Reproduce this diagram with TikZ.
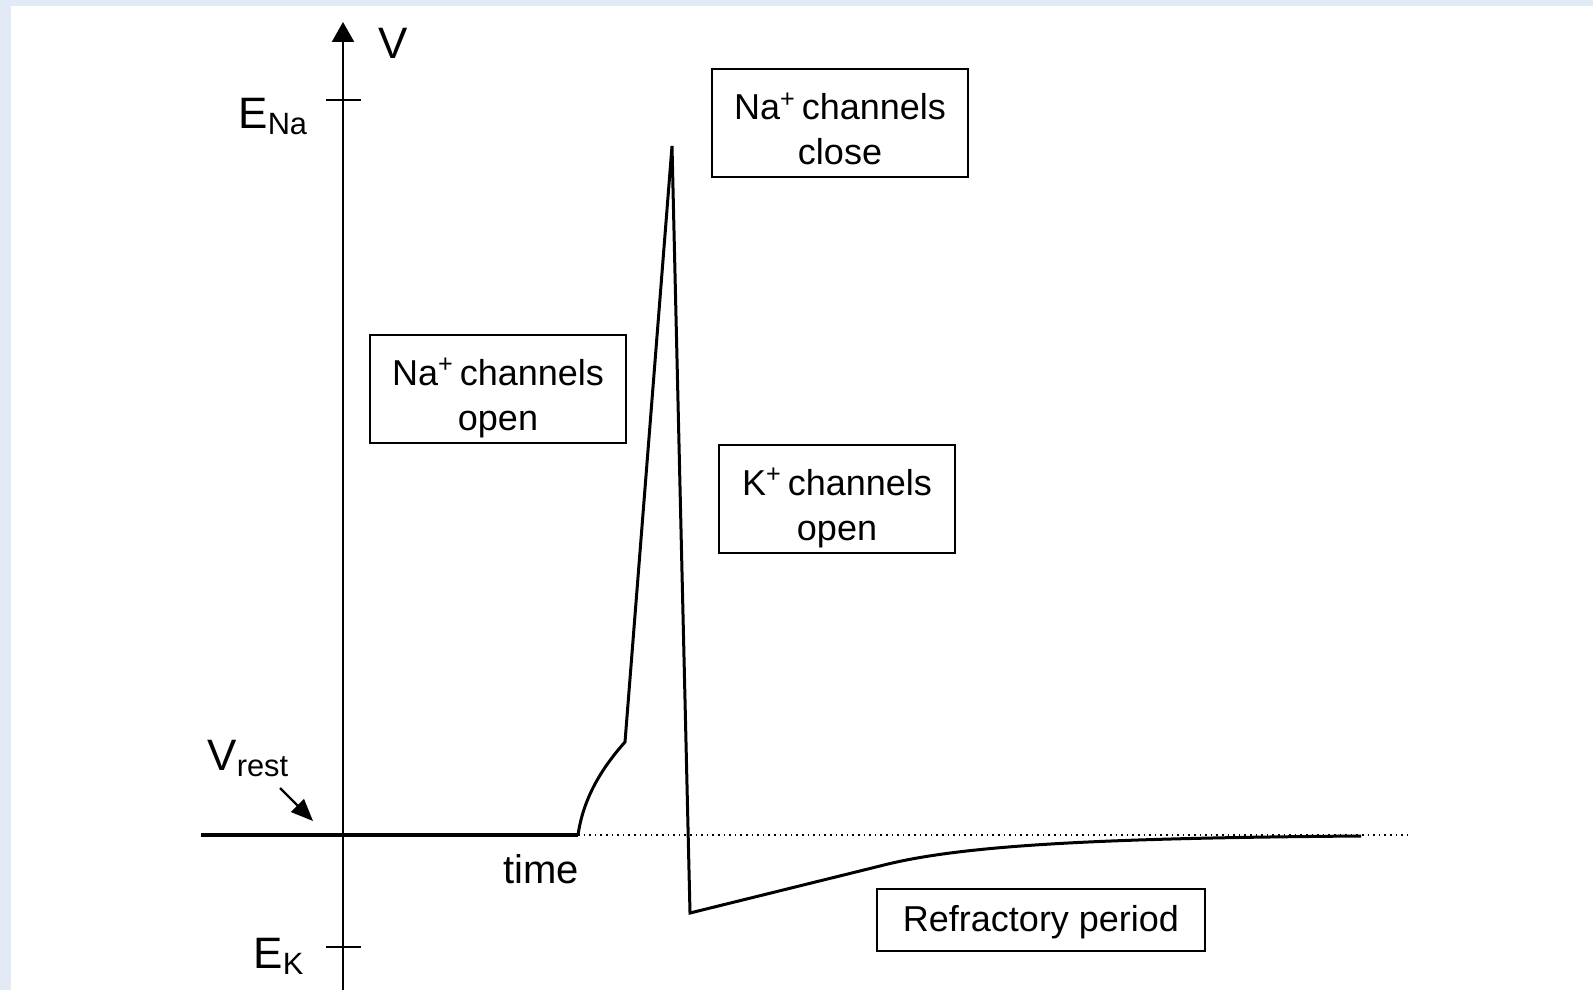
\documentclass[tikz,border=0pt]{standalone}
\usepackage{fontspec}
\setmainfont{Liberation Sans}
\usetikzlibrary{arrows.meta}
\definecolor{bgblue}{RGB}{226,234,245}
\begin{document}
\begin{tikzpicture}
  [x=0.5pt,y=-0.5pt,
   chanbox/.style={draw,line width=1.1pt,inner sep=0pt},
   chantext/.style={align=center,inner sep=0pt,font=\fontsize{18}{22.5}\selectfont},
   axlabel/.style={inner sep=0pt,anchor=base west,font=\fontsize{22}{26}\selectfont}]
  \useasboundingbox (0,0) rectangle (1593,990);
  \fill[bgblue] (0,0) rectangle (1593,990);
  \fill[white] (11,6) rectangle (1593,990);

  \coordinate (O) at (343,835);
  \coordinate (top) at (343,22);
  \coordinate (bot) at (343,990);
  \coordinate (left) at (201,835);
  \coordinate (foot) at (578,835);
  \coordinate (kink) at (625,742);
  \coordinate (peak) at (672,146);
  \coordinate (trough) at (690,913);
  \coordinate (rec) at (880,866);
  \coordinate (endc) at (1361,836);
  \coordinate (dotend) at (1407,835);

  \draw[line width=1.2pt,-{Triangle[width=11pt,length=10pt]}] (bot) -- (top);
  \draw[line width=1.1pt] (326,100) -- (361,100);
  \draw[line width=1.1pt] (326,947) -- (361,947);

  \node[axlabel] (V) at (378,59) {V};
  \node[axlabel] (ENa) at (238,128) {E\textsubscript{Na}};
  \node[axlabel] (EK) at (253,968) {E\textsubscript{K}};
  \node[axlabel] (Vrest) at (207,770) {V\textsubscript{rest}};
  \node[axlabel,font=\fontsize{20}{24}\selectfont] (time) at (503,883) {time};
  \coordinate (vrtip) at (313,821);
  \draw[line width=1.1pt,-{Triangle[width=9pt,length=11pt]}] (280,788) -- (vrtip);

  \draw[dotted,line width=0.8pt] (foot) -- (dotend);
  \draw[line width=1.7pt] (left) -- (foot);
  \draw[line width=1.5pt,line join=miter] (foot) .. controls (583,800) and (600,770) .. (kink)
    -- (peak) -- (trough) -- (rec) .. controls (960,845) and (1100,838) .. (endc);

  \node[chanbox,minimum width=128pt,minimum height=54pt,
        label={[chantext,shift={(0,-4.5pt)}]center:Na\textsuperscript{+}\,channels\\open}] (naopen) at (498,389) {};
  \node[chanbox,minimum width=128pt,minimum height=54pt,
        label={[chantext,shift={(0,-3pt)}]center:Na\textsuperscript{+}\,channels\\close}] (naclose) at (840,123) {};
  \node[chanbox,minimum width=118pt,minimum height=54pt,
        label={[chantext,shift={(0,-4.5pt)}]center:K\textsuperscript{+}\,channels\\open}] (kopen) at (837,499) {};
  \node[chanbox,minimum width=164pt,minimum height=31pt,
        label={[chantext,shift={(0,-1pt)}]center:Refractory period}] (refr) at (1041,920) {};
\end{tikzpicture}
\end{document}
